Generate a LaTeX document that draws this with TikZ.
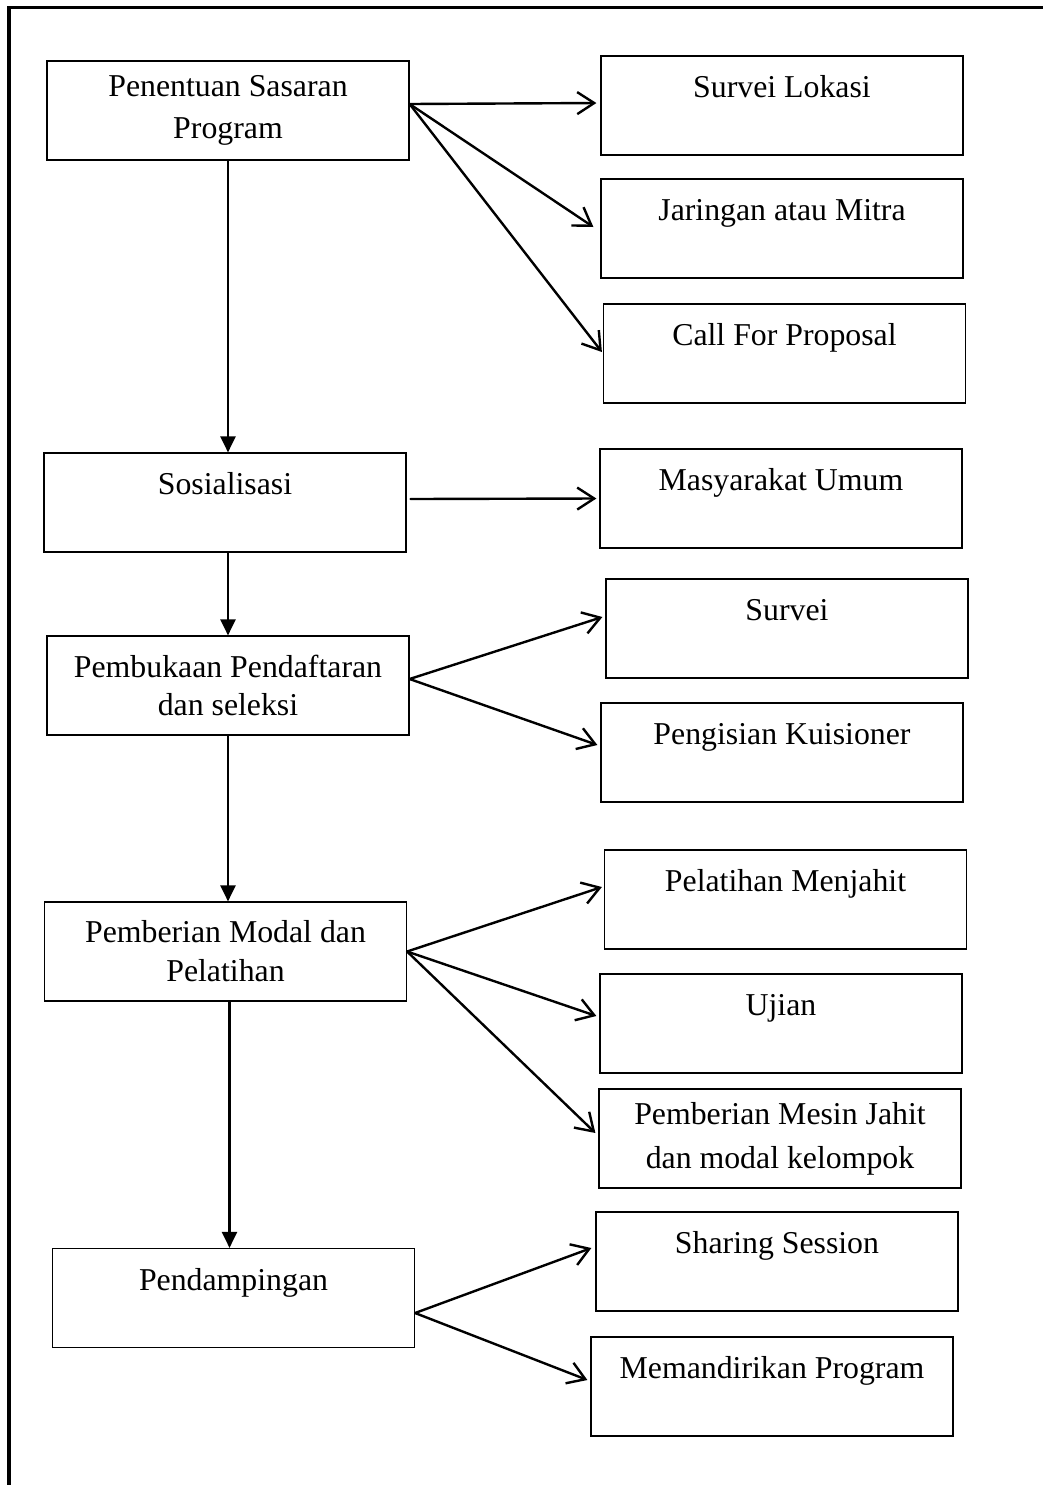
\documentclass[tikz,border=0pt]{standalone}
\usepackage{fontspec}
\setmainfont{Liberation Serif}
\usetikzlibrary{arrows.meta}

\tikzset{
  kotak/.style={draw,line width=0.6pt,inner sep=0pt,minimum width=181pt,minimum height=49.5pt,
    font=\fontsize{15.9}{20.5}\selectfont},
  satu/.style={kotak,text height=11pt,text depth=19pt},
  dua/.style={kotak,align=center},
  turun/.style={line width=1.2pt,-{Triangle[length=8pt,width=7.5pt]}},
  cabang/.style={line width=1.2pt,line cap=round,-{Straight Barb[length=8.5pt,width=11pt]}}
}

\begin{document}
\begin{tikzpicture}[x=0.5pt,y=-0.5pt]
\useasboundingbox (0,0) rectangle (1043,1485);
\draw [line width=1.6pt] (9,1490)-- (9,7.5)-- (1050,7.5);
% kolom kiri
\node[dua] (sasaran) at (228,110.5) {Penentuan Sasaran\\[0.5pt]Program};
\node[satu] (sosial) at (225,502.5) {Sosialisasi};
\node[dua] (daftar) at (228,685.5) {Pembukaan Pendaftaran\\[-1.5pt]dan seleksi};
\node[dua] (modal) at (225.5,951.5) {Pemberian Modal dan\\[-1pt]Pelatihan};
\node[satu] (damping) at (233.5,1298) {Pendampingan};
% kolom kanan
\node[satu] (survlok) at (782,105.5) {Survei Lokasi};
\node[satu] (mitra) at (782,228.5) {Jaringan atau Mitra};
\node[satu] (cfp) at (784.5,353.5) {Call For Proposal};
\node[satu] (masy) at (781,498.5) {Masyarakat Umum};
\node[satu] (survei) at (787,628.5) {Survei};
\node[satu] (kuis) at (782,752.5) {Pengisian Kuisioner};
\node[satu] (jahit) at (785.5,899.5) {Pelatihan Menjahit};
\node[satu] (ujian) at (781,1023.5) {Ujian};
\node[dua] (mesin) at (780,1138.5) {Pemberian Mesin Jahit\\[1.5pt]dan modal kelompok};
\node[satu] (sharing) at (777,1261.5) {Sharing Session};
\node[satu] (mandiri) at (772,1386.5) {Memandirikan Program};
% alur utama
\draw [turun] (sasaran.south)-- (sasaran.south |- sosial.north);
\draw [turun] (daftar.north |- sosial.south)-- (daftar.north);
\draw [turun] (daftar.south)-- (daftar.south |- modal.north);
\draw [turun] ([xshift=2pt]modal.south)-- ([xshift=2pt]modal.south |- damping.north);
% cabang
\draw [cabang] ([yshift=3.25pt]sasaran.east)-- ([xshift=-2pt,yshift=1.25pt]survlok.west);
\draw [cabang] ([yshift=3.25pt]sasaran.east)-- ([xshift=-3.5pt,yshift=0.75pt]mitra.west);
\draw [cabang] ([yshift=3.25pt]sasaran.east)-- ([xshift=-0.5pt,yshift=0.75pt]cfp.west);
\draw [cabang] ([xshift=2pt,yshift=1.75pt]sosial.east)-- ([xshift=-1.5pt]masy.west);
\draw [cabang] ([yshift=3.25pt]daftar.east)-- ([xshift=-1.5pt,yshift=5.75pt]survei.west);
\draw [cabang] ([yshift=3.25pt]daftar.east)-- ([xshift=-1.5pt,yshift=3.75pt]kuis.west);
\draw [cabang] (modal.east)-- ([xshift=-1pt,yshift=6.25pt]jahit.west);
\draw [cabang] (modal.east)-- ([xshift=-1.5pt,yshift=3.75pt]ujian.west);
\draw [cabang] (modal.east)-- ([xshift=-1.5pt,yshift=2.75pt]mesin.west);
\draw [cabang] ([yshift=-7.5pt]damping.east)-- ([xshift=-2pt,yshift=6.75pt]sharing.west);
\draw [cabang] ([yshift=-7.5pt]damping.east)-- ([xshift=-1.5pt,yshift=3.25pt]mandiri.west);
\end{tikzpicture}
\end{document}
